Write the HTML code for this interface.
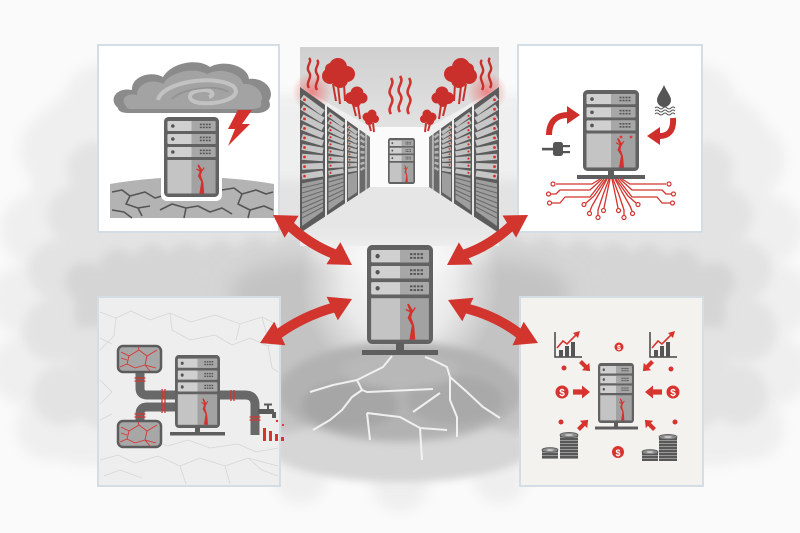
<!DOCTYPE html>
<html><head><meta charset="utf-8"><style>
html,body{margin:0;padding:0;background:#fafafa;width:800px;height:533px;overflow:hidden}
svg{display:block}
</style></head><body>
<svg width="800" height="533" viewBox="0 0 800 533" xmlns="http://www.w3.org/2000/svg">
<defs>
<filter id="b6" x="-20%" y="-20%" width="140%" height="140%"><feGaussianBlur stdDeviation="6"/></filter>
<filter id="b5" x="-20%" y="-30%" width="140%" height="160%"><feGaussianBlur stdDeviation="5"/></filter>
<filter id="b4" x="-20%" y="-20%" width="140%" height="140%"><feGaussianBlur stdDeviation="4"/></filter>
<filter id="b10" x="-30%" y="-30%" width="160%" height="160%"><feGaussianBlur stdDeviation="10"/></filter>
<radialGradient id="glow" cx="50%" cy="50%" r="50%"><stop offset="0" stop-color="#fff" stop-opacity="0.97"/><stop offset="0.55" stop-color="#fff" stop-opacity="0.65"/><stop offset="1" stop-color="#fff" stop-opacity="0"/></radialGradient>
<radialGradient id="redglow" cx="50%" cy="50%" r="50%"><stop offset="0" stop-color="#f07070" stop-opacity="0.8"/><stop offset="1" stop-color="#f07070" stop-opacity="0"/></radialGradient>
<linearGradient id="ceil" x1="0" y1="0" x2="0" y2="1"><stop offset="0" stop-color="#d0d0d0"/><stop offset="1" stop-color="#e2e2e2"/></linearGradient>
<linearGradient id="floorfade" x1="0" y1="0" x2="0" y2="1"><stop offset="0" stop-color="#e6e6e6" stop-opacity="0"/><stop offset="1" stop-color="#eeeeee" stop-opacity="1"/></linearGradient>
<pattern id="coin" width="20" height="3" patternUnits="userSpaceOnUse"><rect width="20" height="3" fill="#585858"/><rect y="2.2" width="20" height="0.8" fill="#a8a8a8"/></pattern>
<symbol id="srv" viewBox="0 0 56 80" preserveAspectRatio="none">
<rect x="0" y="0" width="56" height="80" rx="4.5" fill="#626262"/>
<rect x="3.5" y="4" width="49" height="10" rx="1" fill="#d0d0d0"/><rect x="28" y="4" width="24.5" height="10" fill="#a7a7a7"/>
<rect x="3.5" y="17" width="49" height="10" rx="1" fill="#d0d0d0"/><rect x="28" y="17" width="24.5" height="10" fill="#a7a7a7"/>
<rect x="3.5" y="30" width="49" height="10" rx="1" fill="#d0d0d0"/><rect x="28" y="30" width="24.5" height="10" fill="#a7a7a7"/>
<circle cx="9" cy="9" r="1.8" fill="#555"/><circle cx="9" cy="22" r="1.8" fill="#555"/><circle cx="9" cy="35" r="1.8" fill="#555"/>
<g fill="#555">
<rect x="36.5" y="6.6" width="2" height="1.6"/><rect x="39.5" y="6.6" width="2" height="1.6"/><rect x="42.5" y="6.6" width="2" height="1.6"/><rect x="45.5" y="6.6" width="2" height="1.6"/>
<rect x="36.5" y="9.6" width="2" height="1.6"/><rect x="39.5" y="9.6" width="2" height="1.6"/><rect x="42.5" y="9.6" width="2" height="1.6"/><rect x="45.5" y="9.6" width="2" height="1.6"/>
<rect x="36.5" y="19.6" width="2" height="1.6"/><rect x="39.5" y="19.6" width="2" height="1.6"/><rect x="42.5" y="19.6" width="2" height="1.6"/><rect x="45.5" y="19.6" width="2" height="1.6"/>
<rect x="36.5" y="22.6" width="2" height="1.6"/><rect x="39.5" y="22.6" width="2" height="1.6"/><rect x="42.5" y="22.6" width="2" height="1.6"/><rect x="45.5" y="22.6" width="2" height="1.6"/>
<rect x="36.5" y="32.6" width="2" height="1.6"/><rect x="39.5" y="32.6" width="2" height="1.6"/><rect x="42.5" y="32.6" width="2" height="1.6"/><rect x="45.5" y="32.6" width="2" height="1.6"/>
<rect x="36.5" y="35.6" width="2" height="1.6"/><rect x="39.5" y="35.6" width="2" height="1.6"/><rect x="42.5" y="35.6" width="2" height="1.6"/><rect x="45.5" y="35.6" width="2" height="1.6"/>
</g>
<rect x="3.5" y="43" width="24.5" height="33.5" fill="#c4c4c4"/><rect x="28" y="43" width="24.5" height="33.5" fill="#a2a2a2"/>
<path d="M34,48 L36.5,54 L34.5,59 L38,65 L36,76.5 L41,76.5 L40,65 L37.5,58.5 L39,53 L35.5,47.5 Z" fill="#d4302c"/>
<path d="M37.8,55 L41,50.5 M36.5,54 L33,52" stroke="#d4302c" stroke-width="1.1" fill="none"/>
</symbol>
<g id="tankcr" stroke="#d7342f" stroke-width="0.9" fill="none">
<path d="M121,352 L129,356 L127,364 L135,368 M129,356 L139,350 L147,356 L145,365 L156,368 M147,356 L157,350 M135,368 L145,365 M127,364 L120,367 M139,350 L138,347 M145,365 L150,371 M121,358 L127,360"/>
</g>
</defs>

<!-- background smoke -->
<rect width="800" height="533" fill="#fafafa"/>
<g fill="#efefef" filter="url(#b6)">
<rect x="30" y="95" width="740" height="370" rx="50"/>
<circle cx="60" cy="150" r="40"/><circle cx="35" cy="230" r="35"/><circle cx="25" cy="300" r="35"/><circle cx="25" cy="370" r="35"/><circle cx="48" cy="428" r="32"/><circle cx="100" cy="100" r="35"/>
<circle cx="700" cy="100" r="35"/><circle cx="745" cy="160" r="40"/><circle cx="768" cy="230" r="35"/><circle cx="778" cy="300" r="35"/><circle cx="775" cy="370" r="35"/><circle cx="752" cy="428" r="32"/>
<circle cx="300" cy="478" r="26"/><circle cx="400" cy="484" r="28"/><circle cx="500" cy="478" r="26"/>
</g>
<g fill="#e3e3e3" filter="url(#b5)">
<rect x="70" y="180" width="660" height="250" rx="40"/>
<circle cx="75" cy="215" r="28"/><circle cx="58" cy="270" r="30"/><circle cx="55" cy="330" r="32"/><circle cx="62" cy="395" r="30"/><circle cx="95" cy="170" r="28"/>
<circle cx="725" cy="215" r="28"/><circle cx="742" cy="270" r="30"/><circle cx="745" cy="330" r="32"/><circle cx="738" cy="395" r="30"/><circle cx="705" cy="170" r="28"/>
</g>
<g fill="#d5d5d5" filter="url(#b5)">
<rect x="75" y="272" width="650" height="55"/>
<circle cx="85" cy="282" r="20"/><circle cx="118" cy="268" r="19"/><circle cx="152" cy="264" r="19"/><circle cx="186" cy="262" r="19"/><circle cx="220" cy="260" r="19"/><circle cx="255" cy="258" r="20"/><circle cx="290" cy="256" r="21"/>
<circle cx="715" cy="282" r="20"/><circle cx="682" cy="268" r="19"/><circle cx="648" cy="264" r="19"/><circle cx="614" cy="262" r="19"/><circle cx="580" cy="260" r="19"/><circle cx="545" cy="258" r="20"/><circle cx="510" cy="256" r="21"/>
</g>
<g fill="#c3c3c3" filter="url(#b10)">
<ellipse cx="300" cy="292" rx="70" ry="32"/>
<ellipse cx="500" cy="292" rx="70" ry="32"/>
<ellipse cx="400" cy="380" rx="165" ry="85"/>
</g>
<circle cx="400" cy="285" r="100" fill="url(#glow)"/>

<!-- ground -->
<g filter="url(#b4)">
<ellipse cx="400" cy="450" rx="128" ry="32" fill="#d6d6d6"/>
<ellipse cx="400" cy="392" rx="122" ry="50" fill="#b2b2b2"/>
<ellipse cx="350" cy="405" rx="48" ry="24" fill="#a6a6a6"/>
<ellipse cx="455" cy="400" rx="48" ry="24" fill="#a9a9a9"/>
<ellipse cx="400" cy="370" rx="60" ry="18" fill="#b8b8b8"/>
</g>
<g stroke="#f4f4f4" stroke-width="2" fill="none" stroke-linejoin="round" opacity="0.95">
<path d="M392,356 L383,367 L363,377 L357,380 L333,385 L310,392"/>
<path d="M357,380 L362,390 L352,397 L342,410 L330,420 L313,430"/>
<path d="M362,390 L367,392 L433,389"/>
<path d="M425,357 L433,360 L447,367 L450,377 L467,392 L483,407 L500,418"/>
<path d="M440,393 L413,412 M450,377 L450,400 L457,417 L457,437"/>
<path d="M367,413 L400,417 L420,428 L447,430 M367,413 L370,440 M420,428 L422,460"/>
</g>

<!-- corridor -->
<g>
<polygon points="300,47 499,47 499,87 430,127 370,127 300,87" fill="url(#ceil)"/>
<rect x="370" y="127" width="60" height="60" fill="#fbfbfb"/>
<polygon points="300,233 370,187 430,187 499,233 499,245 300,245" fill="#e6e6e6"/>
<rect x="300" y="220" width="199" height="26" fill="url(#floorfade)"/>
<use href="#srv" x="388" y="138" width="27" height="46"/>
<circle cx="312" cy="92" r="20" fill="url(#redglow)"/>
<circle cx="487" cy="92" r="20" fill="url(#redglow)"/>
<g id="rackL">
<polygon points="300,87 325,104.9 325,216.6 300,233" fill="#5c5c5c"/>
<polygon points="327,106.3 345,119.1 345,203.4 327,215.3" fill="#5c5c5c"/>
<polygon points="347,120.6 358,128.4 358,194.9 347,202.1" fill="#5e5e5e"/>
<polygon points="359.5,129.5 365.5,133.8 365.5,190 359.5,193.9" fill="#6a6a6a"/>
<polygon points="366.5,134.5 370,137 370,187 366.5,189.3" fill="#777"/>
<g stroke="#c6c6c6" stroke-width="6">
<line x1="302" y1="97.2" x2="323" y2="112.7"/><line x1="302" y1="107.1" x2="323" y2="120.3"/><line x1="302" y1="117.1" x2="323" y2="127.9"/><line x1="302" y1="127" x2="323" y2="135.5"/><line x1="302" y1="136.9" x2="323" y2="143.1"/><line x1="302" y1="146.9" x2="323" y2="150.7"/><line x1="302" y1="156.8" x2="323" y2="158.3"/><line x1="302" y1="166.7" x2="323" y2="165.9"/><line x1="302" y1="176.6" x2="323" y2="173.5"/>
</g>
<g stroke="#c2c2c2" stroke-width="4.6">
<line x1="328.5" y1="113.9" x2="343.5" y2="125"/><line x1="328.5" y1="121.3" x2="343.5" y2="130.7"/><line x1="328.5" y1="128.8" x2="343.5" y2="136.5"/><line x1="328.5" y1="136.2" x2="343.5" y2="142.2"/><line x1="328.5" y1="143.6" x2="343.5" y2="147.9"/><line x1="328.5" y1="151" x2="343.5" y2="153.7"/><line x1="328.5" y1="158.4" x2="343.5" y2="159.4"/><line x1="328.5" y1="165.8" x2="343.5" y2="165.1"/><line x1="328.5" y1="173.2" x2="343.5" y2="170.9"/>
</g>
<g stroke="#bdbdbd" stroke-width="3.4">
<line x1="348" y1="126.3" x2="357" y2="133.1"/><line x1="348" y1="131.8" x2="357" y2="137.6"/><line x1="348" y1="137.4" x2="357" y2="142.1"/><line x1="348" y1="142.9" x2="357" y2="146.6"/><line x1="348" y1="148.5" x2="357" y2="151.1"/><line x1="348" y1="154" x2="357" y2="155.7"/><line x1="348" y1="159.6" x2="357" y2="160.2"/><line x1="348" y1="165.1" x2="357" y2="164.7"/><line x1="348" y1="170.6" x2="357" y2="169.2"/>
</g>
<g stroke="#b5b5b5" stroke-width="2.4">
<line x1="360.5" y1="134" x2="364.5" y2="137.5"/><line x1="360.5" y1="140" x2="364.5" y2="142.5"/><line x1="360.5" y1="146" x2="364.5" y2="147.5"/><line x1="360.5" y1="152" x2="364.5" y2="152.5"/><line x1="360.5" y1="158" x2="364.5" y2="157.5"/><line x1="360.5" y1="164" x2="364.5" y2="162.5"/><line x1="360.5" y1="170" x2="364.5" y2="167.5"/>
</g>
<g fill="#9e9e9e">
<polygon points="302,183.4 323,179.2 323,211 302,226"/>
<polygon points="328.5,178.2 343.5,174.9 343.5,199.6 328.5,210.5"/>
<polygon points="348,174.4 357,172.3 357,192.2 348,198.2"/>
</g>
<g stroke="#6a6a6a" stroke-width="1">
<line x1="302" y1="188" x2="323" y2="183"/><line x1="302" y1="193" x2="323" y2="187"/><line x1="302" y1="198" x2="323" y2="191"/><line x1="302" y1="203" x2="323" y2="195"/><line x1="302" y1="208" x2="323" y2="199"/><line x1="302" y1="213" x2="323" y2="203"/><line x1="302" y1="218" x2="323" y2="207"/>
<line x1="328.5" y1="182" x2="343.5" y2="178"/><line x1="328.5" y1="187" x2="343.5" y2="182"/><line x1="328.5" y1="192" x2="343.5" y2="186"/><line x1="328.5" y1="197" x2="343.5" y2="190"/><line x1="328.5" y1="202" x2="343.5" y2="194"/>
</g>
<g fill="#d7302b">
<circle cx="304.5" cy="99.7" r="1.4"/><circle cx="304.5" cy="109.2" r="1.4"/><circle cx="304.5" cy="118.9" r="1.4"/><circle cx="304.5" cy="128.4" r="1.4"/><circle cx="304.5" cy="137.9" r="1.4"/><circle cx="304.5" cy="147.5" r="1.4"/><circle cx="304.5" cy="157" r="1.4"/><circle cx="304.5" cy="166.6" r="1.4"/><circle cx="304.5" cy="176.1" r="1.4"/>
<circle cx="330.5" cy="115.8" r="1.1"/><circle cx="330.5" cy="122.9" r="1.1"/><circle cx="330.5" cy="130.1" r="1.1"/><circle cx="330.5" cy="137.2" r="1.1"/><circle cx="330.5" cy="144.3" r="1.1"/><circle cx="330.5" cy="151.5" r="1.1"/><circle cx="330.5" cy="158.6" r="1.1"/><circle cx="330.5" cy="165.7" r="1.1"/><circle cx="330.5" cy="172.8" r="1.1"/>
<circle cx="349.5" cy="127.5" r="0.9"/><circle cx="349.5" cy="132.9" r="0.9"/><circle cx="349.5" cy="138.3" r="0.9"/><circle cx="349.5" cy="143.6" r="0.9"/><circle cx="349.5" cy="149" r="0.9"/><circle cx="349.5" cy="154.3" r="0.9"/><circle cx="349.5" cy="159.7" r="0.9"/><circle cx="349.5" cy="165" r="0.9"/>
</g>
<g fill="#c9302b">
<circle cx="330" cy="76" r="8"/><circle cx="338" cy="67" r="9"/><circle cx="347" cy="74" r="8"/><circle cx="340" cy="80" r="8"/><circle cx="331" cy="69" r="6"/>
<circle cx="351" cy="98" r="6"/><circle cx="357" cy="93" r="6.5"/><circle cx="362" cy="98" r="5.5"/><circle cx="356" cy="102" r="5"/>
<circle cx="367" cy="117" r="4.5"/><circle cx="372" cy="114" r="4.5"/><circle cx="375" cy="119" r="4"/><circle cx="369" cy="121" r="4"/>
</g>
<g stroke="#c9302b" stroke-width="2" fill="none">
<path d="M333,84 L336,101 M338,86 L340,104 M344,84 L345,101"/>
<path d="M353,104 L356,116 M358,105 L360,119"/>
<path d="M369,124 L371,131 M373,123 L374,132"/>
<path d="M309,88 c-4,-6 4,-10 0,-16 c-4,-6 4,-10 0,-14" stroke-width="2.4"/>
<path d="M317,90 c-4,-6 4,-10 0,-16 c-4,-6 4,-10 0,-14" stroke-width="2.4"/>
</g>
</g>
<use href="#rackL" transform="translate(799,0) scale(-1,1)"/>
<g stroke="#d03530" stroke-width="2.6" fill="none">
<path d="M391,114 c-5,-7 5,-11 0,-18 c-5,-7 5,-11 0,-18"/>
<path d="M400,112 c-5,-7 5,-11 0,-18 c-5,-7 5,-11 0,-18"/>
<path d="M409,114 c-5,-7 5,-11 0,-18 c-5,-7 5,-11 0,-18"/>
</g>
</g>

<!-- Top-left panel -->
<rect x="98" y="45" width="181" height="187" fill="#fff" stroke="#d3dde3" stroke-width="2"/>
<path d="M118,108 C108,100 116,87 132,90 C131,77 150,70 163,77 C172,62 198,58 210,67 C224,59 248,66 249,79 C263,77 276,89 269,101 C273,109 264,114 254,113 L128,113 C122,113 118,111 118,108 Z" fill="#8b8b8b"/>
<path d="M126,106 C120,100 126,92 137,95 C137,83 153,78 163,84 C171,71 195,67 207,74 C221,67 241,73 243,84 C255,83 265,93 261,102 C263,107 258,109 252,109 L132,109 C128,109 126,108 126,106 Z" fill="#a3a3a3"/>
<path d="M158,100 C162,82 214,74 233,86 C244,96 222,105 200,103 C185,101 187,90 204,90 C213,90 215,95 209,97" stroke="#c2c2c2" stroke-width="4" fill="none"/>
<path d="M172,99 C182,88 218,84 228,92" stroke="#939393" stroke-width="1.8" fill="none"/>
<polygon points="238,110 252,110 242,124 250,124 228,146 235,129 228,129" fill="#d4302c"/>
<path d="M110,184 Q192,170 274,184 L274,218 L110,218 Z" fill="#b3b3b3"/>
<g stroke="#555" stroke-width="1.6" fill="none" stroke-linejoin="round">
<path d="M112,192 L122,190 L130,196 L126,204 L138,208 L150,206 M130,196 L145,192 L155,198 L162,196"/>
<path d="M112,210 L124,212 L132,218 M138,208 L142,216"/>
<path d="M222,190 L234,188 L242,194 L256,190 L266,194 L273,192 M242,194 L238,204 L250,210 L264,206 L273,210 M250,210 L248,218"/>
<path d="M160,210 L172,204 L186,208 L198,206 L210,212 L222,208 L232,214 M186,208 L184,218"/>
</g>
<rect x="161" y="114" width="61" height="87" rx="6" fill="#fff"/>
<use href="#srv" x="164" y="117" width="55" height="80"/>

<!-- Top-right panel -->
<rect x="518" y="45" width="184" height="187" fill="#fff" stroke="#d3dde3" stroke-width="2"/>
<use href="#srv" x="583" y="90" width="56" height="81"/>
<circle cx="621" cy="137" r="1.4" fill="#e33"/><circle cx="631" cy="137" r="1.4" fill="#e33"/>
<rect x="608" y="170" width="6" height="6" fill="#5e5e5e"/>
<rect x="577" y="175" width="68" height="4" fill="#5e5e5e"/>
<g stroke="#cf2f2a" stroke-width="6" fill="none">
<path d="M549,135 C549,121 557,115 568,115"/>
<path d="M673,118 C674,131 668,136 660,136"/>
</g>
<polygon points="580,115 567,106 567,124" fill="#cf2f2a"/>
<polygon points="647,136 660,127 660,145" fill="#cf2f2a"/>
<rect x="553" y="142" width="10" height="14" rx="2.5" fill="#555"/>
<rect x="562" y="145" width="8" height="2.2" fill="#555"/><rect x="562" y="151" width="8" height="2.2" fill="#555"/>
<rect x="542" y="147.8" width="11" height="2.6" fill="#555"/>
<path d="M664,85 C661,92 657,96 657,100 a7,7 0 0 0 14,0 C671,96 667,92 664,85 Z" fill="#555"/>
<g stroke="#555" stroke-width="1" fill="none">
<path d="M655,108 q2,-2 4,0 t4,0 t4,0 t4,0 t4,0"/><path d="M655,111 q2,-2 4,0 t4,0 t4,0 t4,0 t4,0"/><path d="M655,114 q2,-2 4,0 t4,0 t4,0 t4,0 t4,0"/>
</g>
<g stroke="#d3342f" stroke-width="1.3" fill="none" stroke-linejoin="round">
<path d="M600,179 L592,184 L556,184"/><path d="M602,179 L590,190 L560,190 L556,194 L551,194"/><path d="M604,179 L590,197 L565,197 L560,203 L552,203"/><path d="M606,179 L594,196 L586,203"/><path d="M607,179 L600,192 L592,206 L590,211"/><path d="M609,179 L603,195 L598,210 L598,215"/><path d="M610,179 L606,198 L604,208"/>
<path d="M622,179 L630,184 L666,184"/><path d="M620,179 L632,190 L662,190 L666,194 L671,194"/><path d="M618,179 L632,197 L657,197 L662,203 L670,203"/><path d="M616,179 L628,196 L636,203"/><path d="M615,179 L622,192 L630,206 L632,211"/><path d="M613,179 L619,195 L624,210 L624,215"/><path d="M612,179 L616,198 L618,208"/>
</g>
<g stroke="#d3342f" stroke-width="1.2" fill="#fff">
<circle cx="553" cy="184" r="2"/><circle cx="548.5" cy="194" r="2"/><circle cx="549.5" cy="203" r="2"/><circle cx="584" cy="204.5" r="2"/><circle cx="589.5" cy="213.5" r="2"/><circle cx="598" cy="217.5" r="2"/><circle cx="603.5" cy="210.5" r="2"/>
<circle cx="669" cy="184" r="2"/><circle cx="673.5" cy="194" r="2"/><circle cx="672.5" cy="203" r="2"/><circle cx="638" cy="204.5" r="2"/><circle cx="632.5" cy="213.5" r="2"/><circle cx="624" cy="217.5" r="2"/><circle cx="618.5" cy="210.5" r="2"/>
</g>

<!-- Bottom-left panel -->
<rect x="98" y="297" width="182" height="189" fill="#eeeeee" stroke="#d3dde3" stroke-width="2"/>
<g stroke="#d6d6d6" stroke-width="0.8" fill="none">
<path d="M100,312 L116,318 L131,311 L150,320 L170,313 L191,322 L215,315 L240,324 L262,317 L278,325"/>
<path d="M100,338 L112,344 M170,313 L172,330 L190,340 L215,335 L232,345 L250,338 L268,346 L278,342"/>
<path d="M100,460 L118,455 L135,463 L158,456 L180,466 L200,458 L225,466 L248,458 L278,466"/>
<path d="M104,476 L120,470 L142,478 M180,466 L186,484 M225,466 L230,484 M248,458 L262,470 L278,476"/>
<path d="M116,318 L114,336 L100,350 M240,324 L236,340 M262,317 L266,332 L278,336"/>
<path d="M100,380 L112,392 L100,404 M268,346 L272,368 L278,372 M100,420 L112,414"/>
<path d="M150,440 L168,446 L188,440 L210,448 L238,444 L256,452 L278,448"/>
</g>
<g stroke="#686868" stroke-width="9" fill="none">
<path d="M140,372 L140,388 Q140,395 147,395 L178,395"/>
<path d="M140,421 L140,414 Q140,407 147,407 L178,407"/>
<path d="M218,395 L245,395 Q255,395 255,405 L255,435"/>
</g>
<g stroke="#d7342f" stroke-width="1.3">
<path d="M134.5,378 H145.5 M134.5,381 H145.5 M134.5,414 H145.5 M134.5,417 H145.5"/>
<path d="M162,389 V413 M165,389 V413 M231,390 V401 M234,390 V401"/>
<path d="M249.5,417 H260.5 M249.5,420 H260.5"/>
</g>
<rect x="118" y="346" width="43" height="26" rx="5" fill="#a7a7a7" stroke="#5c5c5c" stroke-width="2.5"/>
<rect x="118" y="421" width="43" height="26" rx="5" fill="#a7a7a7" stroke="#5c5c5c" stroke-width="2.5"/>
<use href="#tankcr"/>
<use href="#tankcr" y="75"/>
<use href="#srv" x="175" y="355" width="45" height="73"/>
<rect x="195" y="427" width="5" height="6" fill="#5e5e5e"/>
<rect x="170" y="432" width="55" height="3.5" fill="#5e5e5e"/>
<rect x="258" y="409" width="16" height="5" rx="1" fill="#5a5a5a"/>
<rect x="264" y="403.5" width="8" height="2" fill="#5a5a5a"/><rect x="267" y="404" width="2" height="6" fill="#5a5a5a"/>
<rect x="272" y="412" width="4" height="6" fill="#5a5a5a"/>
<circle cx="277" cy="421" r="1.2" fill="#d7342f"/><circle cx="283" cy="425" r="1.1" fill="#d7342f"/>
<g fill="#d7342f"><rect x="263" y="428" width="3" height="13"/><rect x="269" y="431" width="3" height="10"/><rect x="275" y="434" width="3" height="7"/><rect x="281" y="437" width="3" height="4"/></g>

<!-- Bottom-right panel -->
<rect x="520" y="297" width="183" height="189" fill="#f3f2ef" stroke="#d3dde3" stroke-width="2"/>
<g id="chart">
<path d="M555,332 V357 H582" stroke="#444" stroke-width="1.5" fill="none"/>
<g fill="#555"><rect x="559" y="350" width="4" height="7"/><rect x="565" y="346" width="4" height="11"/><rect x="571" y="342" width="4" height="15"/></g>
<path d="M557,348 L563,341 L567,344 L576,335" stroke="#d7342f" stroke-width="1.6" fill="none"/>
<polygon points="580,331 573,333 578,338" fill="#d7342f"/>
</g>
<use href="#chart" x="95"/>
<use href="#srv" x="598" y="363" width="36" height="60"/>
<rect x="614" y="422" width="4" height="5" fill="#5e5e5e"/>
<rect x="595" y="426.5" width="43" height="3" fill="#5e5e5e"/>
<g fill="#d7342f">
<circle cx="619" cy="347" r="4.5"/><circle cx="562" cy="392" r="6.5"/><circle cx="673" cy="392" r="6.5"/><circle cx="618" cy="452" r="6"/>
<circle cx="564" cy="368" r="2.5"/><circle cx="671" cy="369" r="2.5"/><circle cx="561" cy="422" r="2.5"/><circle cx="675" cy="422" r="2.5"/>
</g>
<g fill="#fff" font-family="Liberation Sans, sans-serif" font-weight="bold" text-anchor="middle">
<text x="619" y="349.8" font-size="7">$</text>
<text x="562" y="396" font-size="10">$</text>
<text x="673" y="396" font-size="10">$</text>
<text x="618" y="455.8" font-size="9">$</text>
</g>
<g fill="#d7342f">
<polygon transform="translate(581,392)" points="-8,-2.6 1,-2.6 1,-6.5 9,0 1,6.5 1,2.6 -8,2.6"/>
<polygon transform="translate(654,392) rotate(180)" points="-8,-2.6 1,-2.6 1,-6.5 9,0 1,6.5 1,2.6 -8,2.6"/>
<polygon transform="translate(585,366) rotate(45) scale(0.8)" points="-8,-2.6 1,-2.6 1,-6.5 9,0 1,6.5 1,2.6 -8,2.6"/>
<polygon transform="translate(648,366) rotate(135) scale(0.8)" points="-8,-2.6 1,-2.6 1,-6.5 9,0 1,6.5 1,2.6 -8,2.6"/>
<polygon transform="translate(583,425) rotate(-45) scale(0.8)" points="-8,-2.6 1,-2.6 1,-6.5 9,0 1,6.5 1,2.6 -8,2.6"/>
<polygon transform="translate(650,425) rotate(-135) scale(0.8)" points="-8,-2.6 1,-2.6 1,-6.5 9,0 1,6.5 1,2.6 -8,2.6"/>
</g>
<g>
<rect x="560" y="435" width="18" height="24" fill="url(#coin)"/><ellipse cx="569" cy="435" rx="9" ry="2.6" fill="#8c8c8c" stroke="#555" stroke-width="0.8"/><ellipse cx="569" cy="435" rx="4" ry="1.1" fill="#c5c5c5"/>
<rect x="542" y="450" width="16" height="9" fill="url(#coin)"/><ellipse cx="550" cy="450" rx="8" ry="2.4" fill="#8c8c8c" stroke="#555" stroke-width="0.8"/><ellipse cx="550" cy="450" rx="3.5" ry="1" fill="#c5c5c5"/>
<rect x="659" y="437" width="18" height="24" fill="url(#coin)"/><ellipse cx="668" cy="437" rx="9" ry="2.6" fill="#8c8c8c" stroke="#555" stroke-width="0.8"/><ellipse cx="668" cy="437" rx="4" ry="1.1" fill="#c5c5c5"/>
<rect x="642" y="452" width="16" height="9" fill="url(#coin)"/><ellipse cx="650" cy="452" rx="8" ry="2.4" fill="#8c8c8c" stroke="#555" stroke-width="0.8"/><ellipse cx="650" cy="452" rx="3.5" ry="1" fill="#c5c5c5"/>
</g>

<!-- arrows -->
<g stroke="#d2342e" stroke-width="10" fill="none">
<path d="M289,225.2 Q310,245 336,254.8"/>
<path d="M512,225 Q490,246 463,255"/>
<path d="M335,307.2 Q303,316 277,335"/>
<path d="M465,308 Q497,316 521,335"/>
</g>
<g fill="#d2342e">
<polygon points="273,215 284.6,237.8 298.6,215.8"/><polygon points="352,265 326.4,264.2 340.4,242.2"/>
<polygon points="528,215 502.5,215.5 516.1,237.6"/><polygon points="447,265 458.9,242.4 472.5,264.5"/>
<polygon points="260,343 274.2,321.8 285.4,345.2"/><polygon points="352,299 326.6,296.8 337.8,320.2"/>
<polygon points="538,343 512.5,345.2 523.7,321.8"/><polygon points="448,300 462.3,321.2 473.5,297.8"/>
</g>

<!-- center server -->
<use href="#srv" x="367" y="245" width="66" height="99"/>
<rect x="396" y="343" width="8" height="8" fill="#5e5e5e"/>
<rect x="362" y="350" width="76" height="5" fill="#5e5e5e"/>
</svg>
</body></html>
